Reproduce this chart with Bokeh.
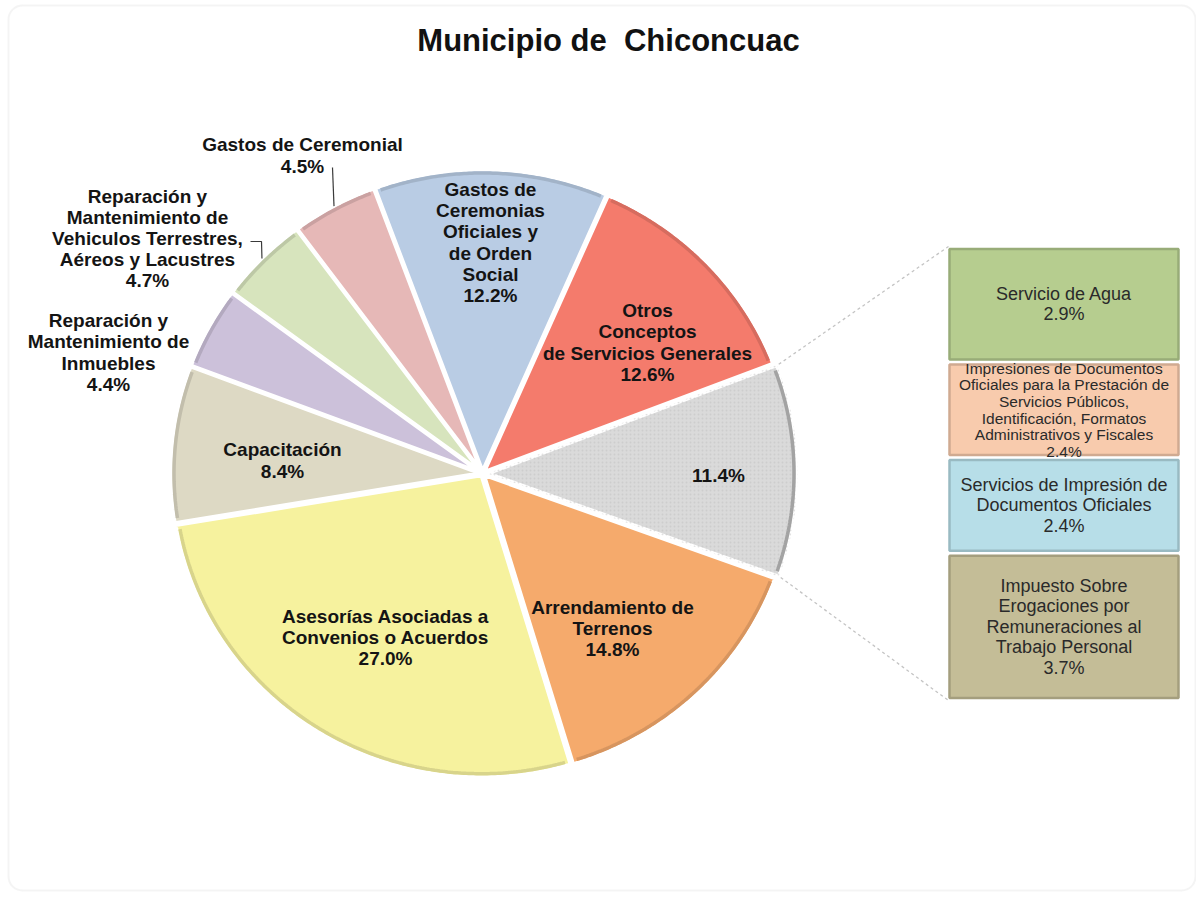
import math
from bokeh.plotting import figure
from bokeh.models import Range1d, BoxAnnotation
from bokeh.core.properties import value
from bokeh.embed import file_html
from bokeh.resources import INLINE

# ---------------- data ----------------
title_text = "Municipio de\u00a0\u00a0Chiconcuac"

# pie slices, counter-clockwise starting with the "other" slice that is broken out
pie_names = [
    "",
    "Otros\nConceptos\nde Servicios Generales",
    "Gastos de\nCeremonias\nOficiales y\nde Orden\nSocial",
    "Gastos de Ceremonial",
    "Reparación y\nMantenimiento de\nVehiculos Terrestres,\nAéreos y Lacustres",
    "Reparación y\nMantenimiento de\nInmuebles",
    "Capacitación",
    "Asesorías Asociadas a\nConvenios o Acuerdos",
    "Arrendamiento de\nTerrenos",
]
pie_values = [11.4, 12.6, 12.2, 4.5, 4.7, 4.4, 8.4, 27.0, 14.8]
pie_colors = ["#DADADA", "#F47B6C", "#B9CCE4", "#E6B8B7", "#D7E4BD",
              "#CCC1DA", "#DDD9C4", "#F6F29E", "#F5AA6C"]

bar_names = [
    "Servicio de Agua",
    "Impresiones de Documentos\nOficiales para la Prestación de\nServicios Públicos,\nIdentificación, Formatos\nAdministrativos y Fiscales",
    "Servicios de Impresión de\nDocumentos Oficiales",
    "Impuesto Sobre\nErogaciones por\nRemuneraciones al\nTrabajo Personal",
]
bar_values = [2.9, 2.4, 2.4, 3.7]
bar_colors = ["#B6CD8F", "#F8CBAD", "#B7DEE8", "#C4BD97"]

# ---------------- layout ----------------
W, H = 1196, 892
CX, CY = 482.0, 473.0
RX, RY = 310.0, 302.0
START = -20.0              # degrees, lower edge of the broken-out slice
EXPLODE = [5, 2, 2, 2, 2, 2, 2, 2, 2]
label_pos = [(718, 475), (647, 342), (490, 242), (302, 155), (147, 238),
             (108, 352), (282, 460), (385, 637), (612, 628)]
BAR_L, BAR_R, BAR_T, BAR_B = 948, 1179, 246, 700
bar_font = ["18px", "15.5px", "18px", "18px"]
bar_lh = [1.02, 0.98, 1.02, 1.02]


def shade(hexcol, f):
    r, g, b = int(hexcol[1:3], 16), int(hexcol[3:5], 16), int(hexcol[5:7], 16)
    return "#%02x%02x%02x" % tuple(max(0, min(255, int(c * f))) for c in (r, g, b))


def ept(a_deg, rx=RX, ry=RY, ox=0.0, oy=0.0):
    a = math.radians(a_deg)
    return CX + ox + rx * math.cos(a), CY + oy - ry * math.sin(a)


p = figure(width=W, height=H, x_range=Range1d(0, W), y_range=Range1d(H, 0),
           output_backend="svg", toolbar_location=None, min_border=0)
p.axis.visible = False
p.grid.visible = False
p.outline_line_color = None
p.background_fill_color = "white"
p.border_fill_color = "white"

# frame
p.add_layout(BoxAnnotation(left=8, right=1195, top=5, bottom=890, border_radius=14,
                           fill_alpha=0, line_color="#d9d9d9", line_width=2))

# ---------------- pie ----------------
total = sum(pie_values)
angles = []
a = START
for v in pie_values:
    span = v / total * 360.0
    angles.append((a, a + span))
    a += span

xs, ys, fills, rim_xs, rim_ys, rim_cols = [], [], [], [], [], []
for i, (a0, a1) in enumerate(angles):
    mid = math.radians((a0 + a1) / 2)
    ox, oy = EXPLODE[i] * math.cos(mid), -EXPLODE[i] * math.sin(mid)
    n = max(8, int((a1 - a0) * 2))
    px, py = [CX + ox], [CY + oy]
    for k in range(n + 1):
        t = a0 + (a1 - a0) * k / n
        x, y = ept(t, ox=ox, oy=oy)
        px.append(x)
        py.append(y)
    xs.append(px)
    ys.append(py)
    fills.append(pie_colors[i])
    rx_, ry_ = [], []
    for k in range(n + 1):
        t = (a0 + 0.9) + (a1 - a0 - 1.8) * k / n
        x, y = ept(t, RX - 3.5, RY - 3.5, ox, oy)
        rx_.append(x)
        ry_.append(y)
    rim_xs.append(rx_)
    rim_ys.append(ry_)
    rim_cols.append("#a3a3a3" if i == 0 else shade(pie_colors[i], 0.88))

p.patches(xs, ys, fill_color=fills, line_color="white", line_width=4)
# dotted texture of the broken-out slice
p.patches([xs[0]], [ys[0]], fill_alpha=0, line_color=None, hatch_pattern=".",
          hatch_color="#bdbdbd", hatch_scale=4, hatch_weight=1, hatch_alpha=0.45)
p.multi_line(rim_xs, rim_ys, line_color=rim_cols, line_width=3.5)

# connectors from broken-out slice to the bar
g0, g1 = angles[0]
gmid = math.radians((g0 + g1) / 2)
gox, goy = EXPLODE[0] * math.cos(gmid), -EXPLODE[0] * math.sin(gmid)
ux, uy = ept(g1, RX + 2, RY + 2, gox, goy)
lx, ly = ept(g0, RX + 2, RY + 2, gox, goy)
p.segment(x0=[ux, lx], y0=[uy, ly], x1=[BAR_L, BAR_L], y1=[BAR_T, BAR_B],
          line_color="#c4c4c4", line_width=1.3, line_dash="3 3")

# pie labels
lab_txt = []
for nm, v in zip(pie_names, pie_values):
    lab_txt.append((nm + "\n" if nm else "") + f"{v:.1f}%")
p.text(x=[q[0] for q in label_pos], y=[q[1] for q in label_pos], text=lab_txt,
       text_font=value("Liberation Sans"), text_font_style="bold", text_font_size="19px",
       text_align="center", text_baseline="middle", text_line_height=1.01,
       text_color="#141414")

# leader lines for outside labels (Ceremonial, Vehiculos)
c0, c1 = angles[3]
cx_, cy_ = ept((c0 + c1) / 2, RX + 2, RY + 2)
p.line([label_pos[3][0] + 30, cx_], [label_pos[3][1] + 12, cy_], line_color="#3a3a3a", line_width=1.2)
v0, v1 = angles[4]
vx_, vy_ = ept((v0 + v1) / 2, RX + 2, RY + 2)
p.line([label_pos[4][0] + 103, label_pos[4][0] + 114, vx_],
       [label_pos[4][1] + 3, label_pos[4][1] + 3, vy_], line_color="#3a3a3a", line_width=1.2)

# ---------------- bar of pie ----------------
btot = sum(bar_values)
scale = (BAR_B - BAR_T) / btot
tops, bots = [], []
y = BAR_T
for v in bar_values:
    tops.append(y)
    y += v * scale
    bots.append(y)
p.quad(left=[BAR_L + 1] * 4, right=[BAR_R - 1] * 4,
       top=[t + 2.5 for t in tops], bottom=[b - 2.5 for b in bots],
       fill_color=bar_colors, line_color=[shade(c, 0.84) for c in bar_colors], line_width=2.5)

for i, nm in enumerate(bar_names):
    p.text(x=[(BAR_L + BAR_R) / 2], y=[(tops[i] + bots[i]) / 2], text=[nm + "\n" + f"{bar_values[i]:.1f}%"],
           text_font=value("Liberation Sans"), text_font_size=bar_font[i],
           text_align="center", text_baseline="middle", text_line_height=bar_lh[i],
           text_color="#2a2a2a")

# title
p.text(x=[608], y=[40], text=[title_text], text_font=value("Liberation Sans"),
       text_font_style="bold", text_font_size="31px", text_align="center",
       text_baseline="middle", text_color="#111111")

open("out.html", "w").write(file_html(p, INLINE))
